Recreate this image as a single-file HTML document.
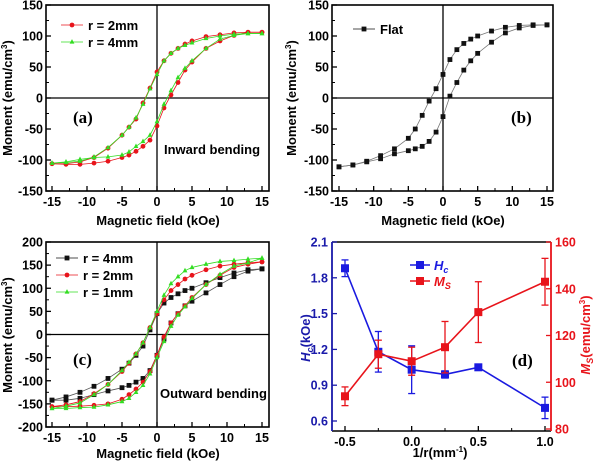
<!DOCTYPE html>
<html><head><meta charset="utf-8">
<style>
html,body{margin:0;padding:0;background:#fff;}
svg{display:block;font-family:"Liberation Sans",Arial,sans-serif;}
</style></head>
<body>
<svg id="fig" width="600" height="464" viewBox="0 0 600 464" xmlns="http://www.w3.org/2000/svg"></svg>
<script>
// ---- data ----
const H = [-15,-13,-11,-9,-7,-5,-4,-3,-2,-1,0,1,2,3,4,5,7,9,11,13,15];
// panel a
const aRedUp  = [-106,-106,-103,-96,-81,-60,-47,-34,-8,16,42,60,72,80,87,92,99,102,105,106,106];
const aRedLow = [-106,-107,-107,-105,-102,-96,-92,-86,-78,-68,-45,-16,5,25,45,58,80,92,101,106,106];
const aGrnUp  = [-105,-104,-102,-95,-80,-60,-47,-32,-10,15,38,60,72,80,85,89,96,100,103,104,104];
const aGrnLow = [-105,-103,-99,-96,-95,-92,-87,-78,-70,-60,-38,-10,12,33,48,60,80,95,101,104,104];
// panel b
const bUp  = [-111,-108,-102,-93,-82,-65,-50,-28,-5,15,38,62,78,88,95,100,108,114,117,118,118];
const bLow = [-111,-108,-103,-98,-90,-85,-82,-78,-70,-55,-30,3,25,45,60,72,90,105,113,117,118];
// panel c
const cBlkUp  = [-142,-135,-125,-112,-95,-75,-62,-45,-25,10,45,68,80,88,95,100,112,123,133,140,142];
const cBlkLow = [-142,-142,-138,-130,-122,-115,-110,-103,-95,-78,-45,-10,25,45,62,72,90,108,125,137,142];
const cRedUp  = [-156,-152,-145,-128,-108,-80,-62,-42,-18,15,45,75,95,108,120,128,140,148,152,155,157];
const cRedLow = [-156,-156,-155,-153,-150,-140,-130,-118,-103,-80,-45,-5,25,45,62,80,108,128,145,152,157];
const cGrnUp  = [-160,-155,-148,-130,-108,-78,-60,-42,-18,15,50,85,110,125,138,145,152,158,160,163,165];
const cGrnLow = [-160,-160,-158,-157,-152,-145,-138,-125,-110,-85,-50,-15,18,42,60,78,108,130,148,155,165];
// panel d
const invR = [-0.5,-0.25,0,0.25,0.5,1.0];
const Hc = [1.88,1.18,1.03,0.99,1.05,0.71];
const HcErr = [0.07,0.17,0.2,0.03,0.01,0.09];
const Ms = [94,112,109,115,130,143];
const MsErr = [4,6,6,11,13,10];
const xTicksH = [-15,-10,-5,0,5,10,15];
const yTicksAB = [-150,-100,-50,0,50,100,150];
const yTicksC = [-200,-150,-100,-50,0,50,100,150,200];
const xTicksD = [-0.5,0,0.5,1.0];
const yTicksHc = [0.6,0.9,1.2,1.5,1.8,2.1];
const yTicksMs = [80,100,120,140,160];

const NS="http://www.w3.org/2000/svg";
const svg=document.getElementById('fig');
function el(tag,attrs,parent,text){const e=document.createElementNS(NS,tag);for(const k in attrs)e.setAttribute(k,attrs[k]);if(text!==undefined)e.textContent=text;(parent||svg).appendChild(e);return e;}
function lin(d0,d1,p0,p1){return v=>p0+(v-d0)*(p1-p0)/(d1-d0);}

function panel(name,box,xs,ys,xt,yt,minorX,minorY){
  const g=el('g',{});
  
  
  el('rect',{x:box.l,y:box.t,width:box.r-box.l,height:box.b-box.t,fill:'none',stroke:'#000','stroke-width':1.6},g);
  xt.forEach(v=>{const x=xs(v);el('line',{x1:x,x2:x,y1:box.b,y2:box.b-5,stroke:'#000','stroke-width':1.3},g);
    const t=el('text',{x:x,y:box.b+15,'text-anchor':'middle','font-size':12.5,'font-weight':'bold'},g,v===0&&minorX===0.25?'0.0':(minorX===0.25?v.toFixed(1):String(v)));
    });
  for(let i=0;i<xt.length-1;i++){const x=xs((xt[i]+xt[i+1])/2);el('line',{x1:x,x2:x,y1:box.b,y2:box.b-3,stroke:'#000','stroke-width':1},g);}
  yt.forEach(v=>{const y=ys(v);el('line',{x1:box.l,x2:box.l+5,y1:y,y2:y,stroke:'#000','stroke-width':1.3},g);
    const t=el('text',{x:box.l-3,y:y+4.5,'text-anchor':'end','font-size':12.5,'font-weight':'bold'},g,String(v));
    });
  for(let i=0;i<yt.length-1;i++){const y=ys((yt[i]+yt[i+1])/2);el('line',{x1:box.l,x2:box.l+3,y1:y,y2:y,stroke:'#000','stroke-width':1},g);}
  return g;
}
function marker(g,shape,x,y,c,s){
  let m;
  if(shape==='sq')m=el('rect',{x:x-s,y:y-s,width:2*s,height:2*s,fill:c},g);
  else if(shape==='ci')m=el('circle',{cx:x,cy:y,r:s,fill:c},g);
  else m=el('polygon',{points:`${x},${y-s-0.5} ${x-s},${y+s*0.7} ${x+s},${y+s*0.7}`,fill:c},g);
  
}
function series(g,name,xs,ys,xv,yv,c,shape,lc){
  const s=el('g',{},g);
  
  el('polyline',{points:xv.map((v,i)=>xs(v)+','+ys(yv[i])).join(' '),fill:'none',stroke:lc||c,'stroke-width':0.8},s);
  xv.forEach((v,i)=>marker(s,shape,xs(v),ys(yv[i]),c,2.4));
}
function legend(g,x,y,label,c,shape,name){
  const l=el('g',{},g);
  
  el('line',{x1:x,x2:x+22,y1:y,y2:y,stroke:c,'stroke-width':0.8},l);
  marker(l,shape,x+11,y,c,2.4);
  el('text',{x:x+27,y:y+5,'font-size':13,'font-weight':'bold'},l,label);
}
function ytitle(x,y,txt,name,color){
  const t=el('text',{x:x,y:y,transform:`rotate(-90 ${x} ${y})`,'text-anchor':'middle','font-size':13,'font-weight':'bold',fill:color||'#000'},svg);
  t.innerHTML=txt;
  
  return t;
}
function xtitle(x,y,txt,name){
  const t=el('text',{x:x,y:y,'text-anchor':'middle','font-size':13,'font-weight':'bold'},svg);
  t.innerHTML=txt;
  
}
function label(g,x,y,txt){
  const t=el('text',{x:x,y:y,'font-family':'Liberation Serif,serif','font-size':17,'font-weight':'bold'},g,txt);
  
}
const RED='#e8141b',GRN='#33dd22';

// panel a
{const box={l:46,r:269,t:5,b:191};
 const xs=lin(-15,15,52,262),ys=lin(-150,150,191,5);
 const g=panel('panel-a',box,xs,ys,xTicksH,yTicksAB);
 el('line',{x1:xs(0),x2:xs(0),y1:box.t,y2:box.b,stroke:'#000','stroke-width':1.3},g);
 el('line',{x1:box.l,x2:box.r,y1:ys(0),y2:ys(0),stroke:'#000','stroke-width':1.3},g);
 series(g,'series-a-r2mm-descending',xs,ys,H,aRedUp,RED,'ci');
 series(g,'series-a-r2mm-ascending',xs,ys,H,aRedLow,RED,'ci');
 series(g,'series-a-r4mm-descending',xs,ys,H,aGrnUp,GRN,'tr');
 series(g,'series-a-r4mm-ascending',xs,ys,H,aGrnLow,GRN,'tr');
 legend(g,61,25,'r = 2mm',RED,'ci','legend-r2mm');
 legend(g,61,42,'r = 4mm',GRN,'tr','legend-r4mm');
 label(g,73,123,'(a)');
 const t=el('text',{x:164,y:154,'font-size':13,'font-weight':'bold'},g,'Inward bending');
 
}
ytitle(12,98,'Moment (emu/cm<tspan dy="-5" font-size="8">3</tspan><tspan dy="5">)</tspan>','y-axis-title-a');
xtitle(158,225,'Magnetic field (kOe)','x-axis-title-a');

// panel b
{const box={l:332,r:553,t:5,b:191};
 const xs=lin(-15,15,339,547),ys=lin(-150,150,191,5);
 const g=panel('panel-b',box,xs,ys,xTicksH,yTicksAB);
 el('line',{x1:xs(0),x2:xs(0),y1:box.t,y2:box.b,stroke:'#000','stroke-width':1.3},g);
 el('line',{x1:box.l,x2:box.r,y1:ys(0),y2:ys(0),stroke:'#000','stroke-width':1.3},g);
 series(g,'series-b-flat-descending',xs,ys,H,bUp,'#111','sq','#777');
 series(g,'series-b-flat-ascending',xs,ys,H,bLow,'#111','sq','#777');
 legend(g,353,29,'Flat','#111','sq','legend-flat');
 label(g,511,123,'(b)');
}
ytitle(296,98,'Moment (emu/cm<tspan dy="-5" font-size="8">3</tspan><tspan dy="5">)</tspan>','y-axis-title-b');
xtitle(443,225,'Magnetic field (kOe)','x-axis-title-b');

// panel c
{const box={l:46,r:269,t:242,b:427};
 const xs=lin(-15,15,52,262),ys=lin(-200,200,427,242);
 const g=panel('panel-c',box,xs,ys,xTicksH,yTicksC);
 el('line',{x1:xs(0),x2:xs(0),y1:box.t,y2:box.b,stroke:'#000','stroke-width':1.3},g);
 el('line',{x1:box.l,x2:box.r,y1:ys(0),y2:ys(0),stroke:'#000','stroke-width':1.3},g);
 series(g,'series-c-r4mm-descending',xs,ys,H,cBlkUp,'#111','sq','#555');
 series(g,'series-c-r4mm-ascending',xs,ys,H,cBlkLow,'#111','sq','#555');
 series(g,'series-c-r2mm-descending',xs,ys,H,cRedUp,RED,'ci');
 series(g,'series-c-r2mm-ascending',xs,ys,H,cRedLow,RED,'ci');
 series(g,'series-c-r1mm-descending',xs,ys,H,cGrnUp,GRN,'tr');
 series(g,'series-c-r1mm-ascending',xs,ys,H,cGrnLow,GRN,'tr');
 legend(g,56,258,'r = 4mm','#111','sq','legend-r4mm');
 legend(g,56,275,'r = 2mm',RED,'ci','legend-r2mm');
 legend(g,56,292,'r = 1mm',GRN,'tr','legend-r1mm');
 label(g,73,365,'(c)');
 const t=el('text',{x:160,y:398,'font-size':13,'font-weight':'bold'},g,'Outward bending');
 
}
ytitle(12,335,'Moment (emu/cm<tspan dy="-5" font-size="8">3</tspan><tspan dy="5">)</tspan>','y-axis-title-c');
xtitle(158,458,'Magnetic field (kOe)','x-axis-title-c');

// panel d
{const box={l:332,r:551,t:242,b:431};
 const xs=lin(-0.5,1.0,345,545),ysL=lin(0.6,2.1,421,242),ysR=lin(80,160,429,242);
 const g=el('g',{});
 
 el('line',{x1:box.l,x2:box.r,y1:box.b,y2:box.b,stroke:'#000','stroke-width':1.6},g);
 el('line',{x1:box.l,x2:box.r,y1:box.t,y2:box.t,stroke:'#000','stroke-width':1.6},g);
 el('line',{x1:box.l,x2:box.l,y1:box.t,y2:box.b,stroke:'#1a1aaa','stroke-width':1.8},g);
 el('line',{x1:box.r,x2:box.r,y1:box.t,y2:box.b,stroke:RED,'stroke-width':1.8},g);
 xTicksD.forEach(v=>{const x=xs(v);el('line',{x1:x,x2:x,y1:box.b,y2:box.b-5,stroke:'#000','stroke-width':1.3},g);
   const t=el('text',{x:x,y:box.b+15,'text-anchor':'middle','font-size':12.5,'font-weight':'bold'},g,v.toFixed(1));
   });
 for(let i=0;i<xTicksD.length-1;i++){const x=xs((xTicksD[i]+xTicksD[i+1])/2);el('line',{x1:x,x2:x,y1:box.b,y2:box.b-3,stroke:'#000'},g);}
 yTicksHc.forEach(v=>{const y=ysL(v);el('line',{x1:box.l,x2:box.l+5,y1:y,y2:y,stroke:'#1a1aaa','stroke-width':1.3},g);
   const t=el('text',{x:box.l-4,y:y+4.5,'text-anchor':'end','font-size':12.5,'font-weight':'bold',fill:'#1a1aaa'},g,v.toFixed(1));
   });
 yTicksMs.forEach(v=>{const y=ysR(v);el('line',{x1:box.r,x2:box.r-5,y1:y,y2:y,stroke:RED,'stroke-width':1.3},g);
   const t=el('text',{x:box.r+4,y:y+4.5,'font-size':12.5,'font-weight':'bold',fill:RED},g,String(v));
   });
 function errSeries(name,vals,errs,ys,c){
   const s=el('g',{},g);
   
   el('polyline',{points:invR.map((v,i)=>xs(v)+','+ys(vals[i])).join(' '),fill:'none',stroke:c,'stroke-width':1.6},s);
   invR.forEach((v,i)=>{const x=xs(v),y1=ys(vals[i]-errs[i]),y2=ys(vals[i]+errs[i]);
     el('line',{x1:x,x2:x,y1:y1,y2:y2,stroke:c,'stroke-width':1.3},s);
     el('line',{x1:x-3.5,x2:x+3.5,y1:y1,y2:y1,stroke:c,'stroke-width':1.3},s);
     el('line',{x1:x-3.5,x2:x+3.5,y1:y2,y2:y2,stroke:c,'stroke-width':1.3},s);
     const m=el('rect',{x:x-4,y:ys(vals[i])-4,width:8,height:8,fill:c},s);
     });
 }
 errSeries('series-hc',Hc,HcErr,ysL,'#1a1ae0');
 errSeries('series-ms',Ms,MsErr,ysR,RED);
 const l1=el('g',{},g);
 el('line',{x1:410,x2:430,y1:265,y2:265,stroke:'#1a1ae0','stroke-width':1.6},l1);
 el('rect',{x:416,y:261,width:8,height:8,fill:'#1a1ae0'},l1);
 el('text',{x:434,y:270,'font-size':13,'font-weight':'bold',fill:'#1a1ae0'},l1).innerHTML='<tspan font-style="italic">H</tspan><tspan dy="3" font-size="9" font-style="italic">c</tspan>';
 const l2=el('g',{},g);
 el('line',{x1:410,x2:430,y1:281,y2:281,stroke:RED,'stroke-width':1.6},l2);
 el('rect',{x:416,y:277,width:8,height:8,fill:RED},l2);
 el('text',{x:434,y:286,'font-size':13,'font-weight':'bold',fill:RED},l2).innerHTML='<tspan font-style="italic">M</tspan><tspan dy="3" font-size="9" font-style="italic">S</tspan>';
 label(g,512,366,'(d)');
}
ytitle(310,338,'<tspan font-style="italic">H</tspan><tspan dy="3" font-size="9" font-style="italic">c</tspan><tspan dy="-3">(kOe)</tspan>','y-axis-title-left-d','#1a1aaa');
ytitle(590,335,'<tspan font-style="italic">M</tspan><tspan dy="3" font-size="9" font-style="italic">S</tspan><tspan dy="-3">(emu/cm</tspan><tspan dy="-5" font-size="8">3</tspan><tspan dy="5">)</tspan>','y-axis-title-right-d',RED);
xtitle(440,457,'1/r(mm<tspan dy="-5" font-size="8">-1</tspan><tspan dy="5">)</tspan>','x-axis-title-d');
</script>
</body></html>
